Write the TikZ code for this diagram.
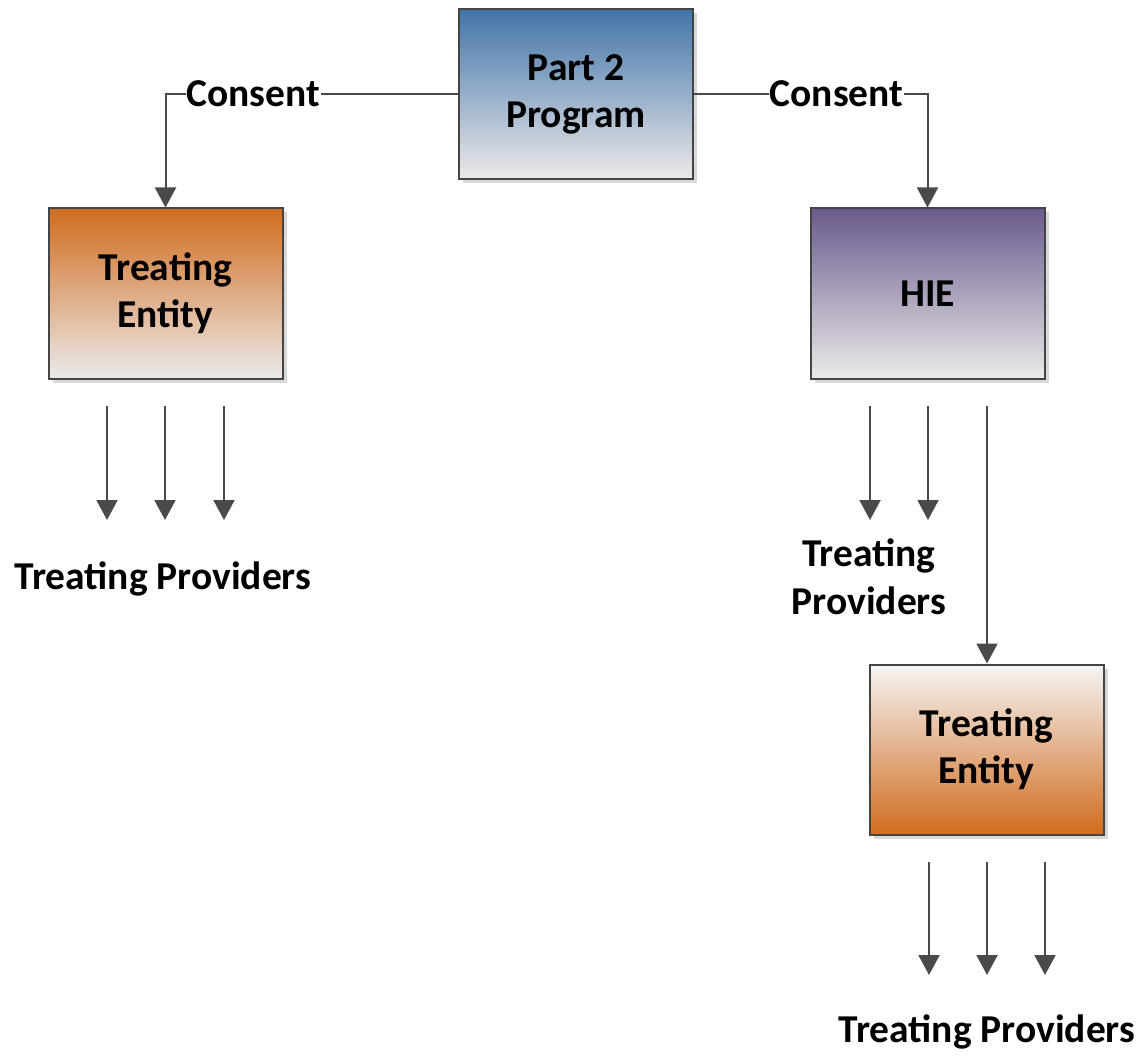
\documentclass[tikz,border=0pt]{standalone}
\usepackage{fontspec}
\setmainfont{Carlito}
\usetikzlibrary{arrows.meta,shadows}

\definecolor{edgegray}{HTML}{444444}
\definecolor{linegray}{HTML}{4A4A4A}
\definecolor{blueTop}{HTML}{4274A8}
\definecolor{orangeTop}{HTML}{D06C1E}
\definecolor{purpleTop}{HTML}{6A5A8C}
\definecolor{paleEnd}{HTML}{ECEAEA}

\tikzset{
  box/.style={draw=edgegray, line width=2pt, minimum width=234pt, minimum height=170pt,
    align=center, inner sep=0pt, font=\fontsize{39.5}{47}\selectfont\bfseries,
    drop shadow={shadow xshift=4pt, shadow yshift=-4pt, fill=black!30, opacity=0.5}},
  bluebox/.style={box, top color=blueTop, bottom color=paleEnd},
  orangebox/.style={box, top color=orangeTop, bottom color=paleEnd},
  orangeup/.style={box, top color=paleEnd!50!white, bottom color=orangeTop},
  purplebox/.style={box, top color=purpleTop, bottom color=paleEnd},
  link/.style={draw=linegray, line width=2pt, -{Triangle[width=21pt,length=20pt]}},
  lbl/.style={font=\fontsize{39.5}{48}\selectfont\bfseries, align=center, inner sep=2pt},
  consent/.style={lbl, fill=white, inner sep=1pt}
}

\begin{document}
\begin{tikzpicture}[x=1pt, y=-1pt]
  \useasboundingbox (0,0) rectangle (1140,1056);

  % main boxes
  \node[bluebox]   (prog) at (576,94)    {Part 2\\Program};
  \node[orangebox] (te1)  at (165.5,293.5) {Treating\\Entity};
  \node[purplebox] (hie)  at (927.5,293.5) {HIE};
  \node[orangeup]  (te2)  at (986.5,749.5) {Treating\\Entity};

  % consent connectors
  \coordinate (bendL) at (te1.north |- prog.west);
  \coordinate (bendR) at (hie.north |- prog.east);
  \draw[link] (prog.west) -- node[consent, pos=0.70] (cL) {Consent} (bendL) -- (te1.north);
  \draw[link] (prog.east) -- node[consent, pos=0.61] (cR) {Consent} (bendR) -- (hie.north);

  % providers under the left treating entity
  \coordinate (a1s) at (107,406);  \coordinate (a1e) at (107,520);
  \coordinate (a2s) at (165,406);  \coordinate (a2e) at (165,520);
  \coordinate (a3s) at (224,406);  \coordinate (a3e) at (224,520);
  \draw[link] (a1s) -- (a1e);
  \draw[link] (a2s) -- (a2e);
  \draw[link] (a3s) -- (a3e);
  \node[lbl] (prov1) at (163,579) {Treating Providers};

  % providers under the HIE
  \coordinate (b1s) at (870,406);  \coordinate (b1e) at (870,520);
  \coordinate (b2s) at (928,406);  \coordinate (b2e) at (928,520);
  \coordinate (b3s) at (987,406);
  \draw[link] (b1s) -- (b1e);
  \draw[link] (b2s) -- (b2e);
  \draw[link] (b3s) -- (b3s |- te2.north);
  \node[lbl] (prov2) at (869,577) {Treating\\Providers};

  % providers under the lower treating entity
  \coordinate (c1s) at (929,862);  \coordinate (c1e) at (929,975);
  \coordinate (c2s) at (987,862);  \coordinate (c2e) at (987,975);
  \coordinate (c3s) at (1045,862); \coordinate (c3e) at (1045,975);
  \draw[link] (c1s) -- (c1e);
  \draw[link] (c2s) -- (c2e);
  \draw[link] (c3s) -- (c3e);
  \node[lbl] (prov3) at (987,1032) {Treating Providers};
\end{tikzpicture}
\end{document}
